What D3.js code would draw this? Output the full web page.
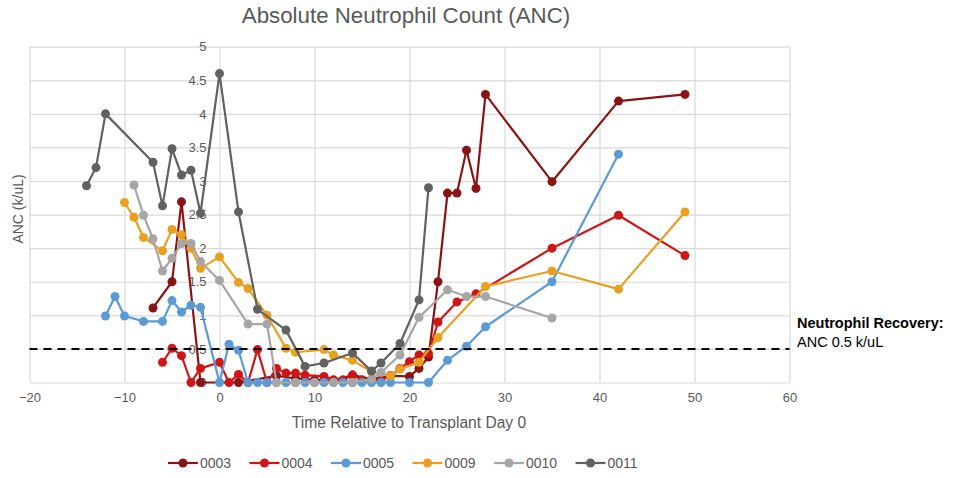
<!DOCTYPE html>
<html>
<head>
<meta charset="utf-8">
<script src="https://cdn.jsdelivr.net/npm/d3@7"></script>
<style>
  html, body { margin: 0; padding: 0; background: #fff; }
  svg { display: block; font-family: "Liberation Sans", Arial, sans-serif; }
</style>
</head>
<body>
<svg id="chart" width="973" height="478"></svg>
<script>
// Patient IDs and display colours
const patients = ["0003", "0004", "0005", "0009", "0010", "0011"];
const colors = ["#8a1414", "#cf1518", "#5b9bd5", "#e9a020", "#a6a6a6", "#616161"];

// Days relative to transplant (day 0) and ANC values (k/uL) per patient
const days0003 = [-7, -5, -4, -2, 2, 6, 8, 10, 12, 14, 16, 18, 20, 21, 22, 23, 24, 25, 26, 27, 28, 35, 42, 49];
const anc0003  = [1.11, 1.50, 2.69, 0, 0, 0.10, 0.06, 0.04, 0.03, 0.11, 0.05, 0.10, 0.09, 0.21, 0.38, 1.50, 2.82, 2.82, 3.46, 2.89, 4.29, 2.99, 4.19, 4.29];

const days0004 = [-6, -5, -4, -3, -2, 0, 1, 2, 3, 4, 5, 6, 7, 8, 9, 11, 12, 13, 14, 15, 16, 17, 18, 19, 20, 21, 22, 23, 25, 27, 35, 42, 49];
const anc0004  = [0.30, 0.51, 0.40, 0, 0.21, 0.30, 0, 0.12, 0, 0.49, 0, 0.21, 0.14, 0.14, 0.11, 0.09, 0.04, 0.04, 0.11, 0.04, 0.04, 0.04, 0.10, 0.21, 0.31, 0.41, 0.43, 0.90, 1.20, 1.32, 2.00, 2.49, 1.89];

const days0005 = [-12, -11, -10, -8, -6, -5, -4, -3, -2, 0, 1, 2, 3, 4, 5, 6, 7, 8, 9, 10, 11, 12, 13, 14, 15, 16, 17, 18, 20, 22, 24, 26, 28, 35, 42];
const anc0005  = [0.99, 1.28, 0.99, 0.91, 0.91, 1.22, 1.05, 1.15, 1.12, 0, 0.57, 0.48, 0, 0, 0, 0, 0, 0, 0, 0, 0, 0, 0, 0, 0, 0, 0, 0, 0, 0, 0.33, 0.54, 0.83, 1.50, 3.40];

const days0009 = [-10, -9, -8, -6, -5, -4, -3, -2, 0, 2, 3, 5, 7, 8, 11, 12, 14, 16, 18, 19, 21, 23, 28, 35, 42, 49];
const anc0009  = [2.68, 2.46, 2.16, 1.96, 2.28, 2.20, 2.00, 1.70, 1.87, 1.49, 1.40, 1.00, 0.51, 0.45, 0.49, 0.41, 0.33, 0.16, 0.10, 0.20, 0.30, 0.67, 1.43, 1.66, 1.39, 2.54];

const days0010 = [-9, -8, -7, -6, -5, -4, -3, -2, 0, 3, 5, 6, 8, 10, 12, 14, 16, 17, 19, 21, 24, 26, 28, 35];
const anc0010  = [2.94, 2.49, 2.14, 1.66, 1.85, 2.07, 2.07, 1.80, 1.52, 0.87, 0.87, 0, 0, 0, 0, 0, 0.05, 0.15, 0.41, 0.97, 1.38, 1.28, 1.28, 0.96];

const days0011 = [-14, -13, -12, -7, -6, -5, -4, -3, -2, 0, 2, 4, 7, 9, 11, 14, 16, 17, 19, 21, 22];
const anc0011  = [2.93, 3.20, 4.00, 3.28, 2.63, 3.48, 3.09, 3.16, 2.52, 4.60, 2.54, 1.09, 0.78, 0.24, 0.29, 0.44, 0.17, 0.29, 0.58, 1.23, 2.90];

// Axis ticks and recovery threshold
const xTicks = [-20, -10, 0, 10, 20, 30, 40, 50, 60];
const yTicks = [0, 0.5, 1, 1.5, 2, 2.5, 3, 3.5, 4, 4.5, 5];
const recoveryThreshold = 0.5;

const seriesDays = [days0003, days0004, days0005, days0009, days0010, days0011];
const seriesAnc = [anc0003, anc0004, anc0005, anc0009, anc0010, anc0011];
const series = patients.map((id, i) => ({
  id, color: colors[i],
  points: seriesDays[i].map((d, j) => ({ day: d, anc: seriesAnc[i][j] }))
}));

const svg = d3.select("#chart");
const textColor = "#595959";
const gridColor = "#d9d9d9";

const x = d3.scaleLinear().domain([-20, 60]).range([29.5, 789.5]);
const y = d3.scaleLinear().domain([0, 5]).range([382.5, 46.7]);

// Title
svg.append("text")
  .attr("x", 406).attr("y", 23)
  .attr("text-anchor", "middle")
  .attr("font-size", 22.3)
  .attr("fill", textColor)
  .text("Absolute Neutrophil Count (ANC)");

// Gridlines
const grid = svg.append("g");
grid.append("g")
  .attr("transform", `translate(0,${y(0)})`)
  .call(d3.axisBottom(x).tickValues(xTicks).tickSize(-(y(0) - y(5))).tickFormat(""))
  .call(g => g.select(".domain").remove())
  .call(g => g.selectAll("line").attr("stroke", gridColor).attr("stroke-width", 1.2));
grid.append("g")
  .attr("transform", `translate(${x(-20)},0)`)
  .call(d3.axisLeft(y).tickValues(yTicks).tickSize(-(x(60) - x(-20))).tickFormat(""))
  .call(g => g.select(".domain").remove())
  .call(g => g.selectAll("line").attr("stroke", gridColor).attr("stroke-width", 1.2));

// X tick labels along the bottom
svg.append("g")
  .attr("transform", `translate(0,${y(0)})`)
  .call(d3.axisBottom(x).tickValues(xTicks).tickSize(0).tickPadding(10).tickFormat(d3.format("d")))
  .call(g => g.select(".domain").remove())
  .call(g => g.selectAll("text").attr("font-size", 13).attr("fill", textColor)
    .attr("font-family", "Liberation Sans, Arial, sans-serif"));

// Y tick labels sit beside the day-0 line
svg.append("g")
  .attr("transform", `translate(${x(0)},0)`)
  .call(d3.axisLeft(y).tickValues(yTicks).tickSize(0).tickPadding(13).tickFormat(d => d3.format("")(d)))
  .call(g => g.select(".domain").remove())
  .call(g => g.selectAll("text").attr("font-size", 13).attr("fill", textColor)
    .attr("font-family", "Liberation Sans, Arial, sans-serif"));

// Axis titles
svg.append("text")
  .attr("x", 409).attr("y", 428)
  .attr("text-anchor", "middle")
  .attr("font-size", 15.6)
  .attr("fill", textColor)
  .text("Time Relative to Transplant Day 0");
svg.append("text")
  .attr("transform", "translate(23,209) rotate(-90)")
  .attr("text-anchor", "middle")
  .attr("font-size", 14)
  .attr("fill", textColor)
  .text("ANC (k/uL)");

// Patient series
const line = d3.line().x(d => x(d.day)).y(d => y(d.anc));
const seriesG = svg.append("g");
series.forEach(s => {
  const g = seriesG.append("g");
  g.append("path")
    .datum(s.points)
    .attr("fill", "none")
    .attr("stroke", s.color)
    .attr("stroke-width", 2.2)
    .attr("stroke-linejoin", "round")
    .attr("d", line);
  g.selectAll("circle")
    .data(s.points)
    .join("circle")
    .attr("cx", d => x(d.day))
    .attr("cy", d => y(d.anc))
    .attr("r", 4.5)
    .attr("fill", s.color);
});

// Recovery threshold line
svg.append("line")
  .attr("x1", x(-20)).attr("x2", x(60))
  .attr("y1", y(recoveryThreshold)).attr("y2", y(recoveryThreshold))
  .attr("stroke", "#000")
  .attr("stroke-width", 2)
  .attr("stroke-dasharray", "8,6");

svg.append("text")
  .attr("x", 797).attr("y", 328)
  .attr("font-size", 14.5)
  .attr("font-weight", "bold")
  .attr("fill", "#000")
  .text("Neutrophil Recovery:");
svg.append("text")
  .attr("x", 797).attr("y", 347)
  .attr("font-size", 14.5)
  .attr("fill", "#000")
  .text(`ANC ${recoveryThreshold} k/uL`);

// Legend
const legend = svg.append("g").attr("transform", "translate(168,463)");
patients.forEach((id, i) => {
  const g = legend.append("g").attr("transform", `translate(${i * 81.5},0)`);
  g.append("line").attr("x1", 0).attr("x2", 30).attr("y1", 0).attr("y2", 0)
    .attr("stroke", colors[i]).attr("stroke-width", 2.2);
  g.append("circle").attr("cx", 15).attr("cy", 0).attr("r", 4.5).attr("fill", colors[i]);
  g.append("text").attr("x", 32).attr("y", 5)
    .attr("font-size", 14).attr("fill", textColor).text(id);
});
</script>
</body>
</html>
